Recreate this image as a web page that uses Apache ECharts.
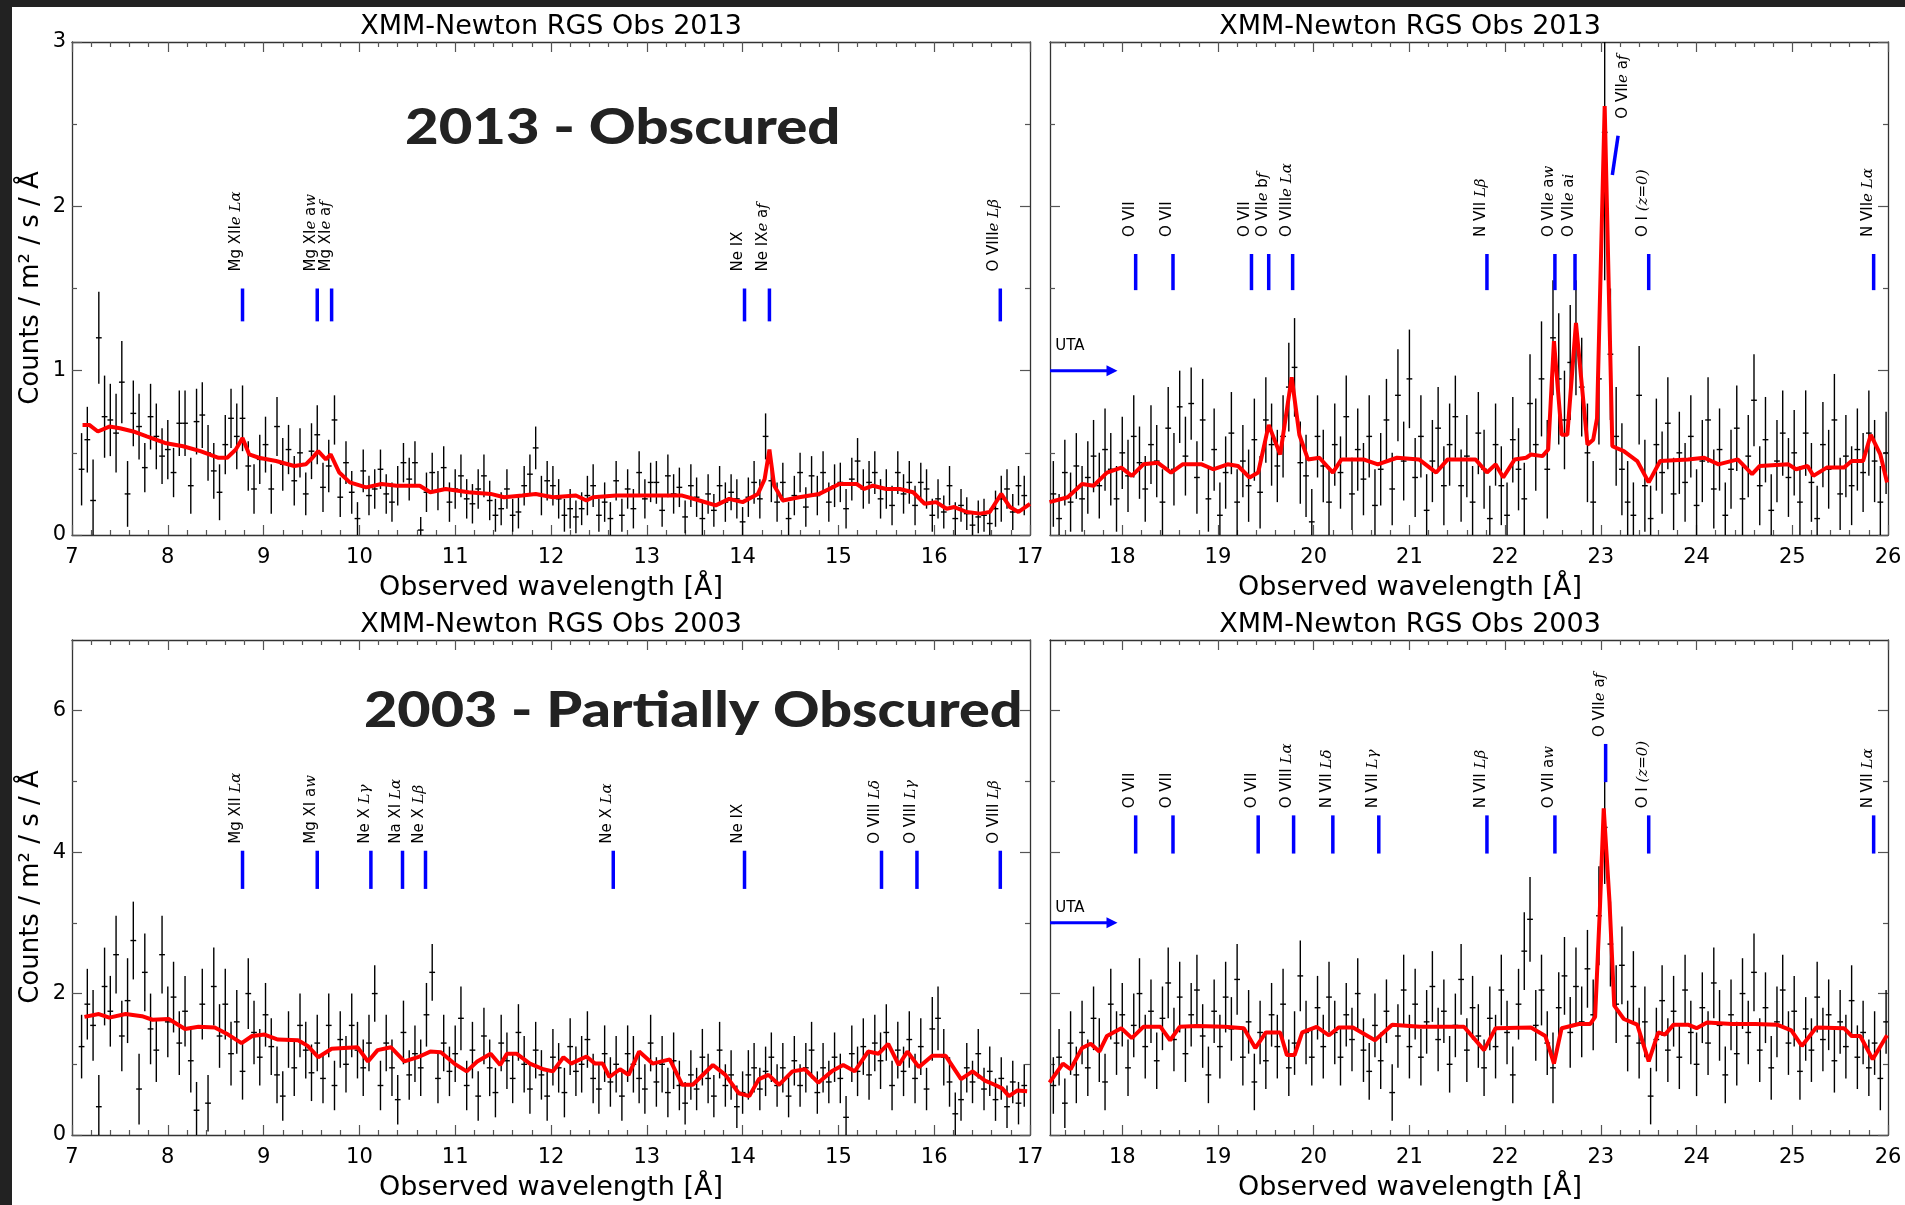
<!DOCTYPE html>
<html lang="en">
<head>
<meta charset="UTF-8">
<title>XMM-Newton RGS spectra 2013 / 2003</title>
<style>
  html, body { margin: 0; padding: 0; background: #fff; }
  #main { width: 1905px; height: 1205px; }
</style>
</head>
<body>
<div id="main"></div>
<script src="https://cdn.jsdelivr.net/npm/echarts@6/dist/echarts.min.js"></script>
<script>
// wavelength bins (Å), same grid for both observations
const waveShort = [
  7.10,7.16,7.22,7.28,7.34,7.40,7.46,7.52,7.58,7.64,
  7.70,7.76,7.82,7.88,7.94,8.00,8.06,8.12,8.18,8.24,
  8.30,8.36,8.42,8.48,8.54,8.60,8.66,8.72,8.78,8.84,
  8.90,8.96,9.02,9.08,9.14,9.20,9.26,9.32,9.38,9.44,
  9.50,9.56,9.62,9.68,9.74,9.80,9.86,9.92,9.98,10.04,
  10.10,10.16,10.22,10.28,10.34,10.40,10.46,10.52,10.58,10.64,
  10.70,10.76,10.82,10.88,10.94,11.00,11.06,11.12,11.18,11.24,
  11.30,11.36,11.42,11.48,11.54,11.60,11.66,11.72,11.78,11.84,
  11.90,11.96,12.02,12.08,12.14,12.20,12.26,12.32,12.38,12.44,
  12.50,12.56,12.62,12.68,12.74,12.80,12.86,12.92,12.98,13.04,
  13.10,13.16,13.22,13.28,13.34,13.40,13.46,13.52,13.58,13.64,
  13.70,13.76,13.82,13.88,13.94,14.00,14.06,14.12,14.18,14.24,
  14.30,14.36,14.42,14.48,14.54,14.60,14.66,14.72,14.78,14.84,
  14.90,14.96,15.02,15.08,15.14,15.20,15.26,15.32,15.38,15.44,
  15.50,15.56,15.62,15.68,15.74,15.80,15.86,15.92,15.98,16.04,
  16.10,16.16,16.22,16.28,16.34,16.40,16.46,16.52,16.58,16.64,
  16.70,16.76,16.82,16.88,16.94
];
const waveLong = [
  17.28,17.34,17.40,17.46,17.52,17.58,17.64,17.70,17.76,17.82,
  17.88,17.94,18.00,18.06,18.12,18.18,18.24,18.30,18.36,18.42,
  18.48,18.54,18.60,18.66,18.72,18.78,18.84,18.90,18.96,19.02,
  19.08,19.14,19.20,19.26,19.32,19.38,19.44,19.50,19.56,19.62,
  19.68,19.74,19.80,19.86,19.92,19.98,20.04,20.10,20.16,20.22,
  20.28,20.34,20.40,20.46,20.52,20.58,20.64,20.70,20.76,20.82,
  20.88,20.94,21.00,21.06,21.12,21.18,21.24,21.30,21.36,21.42,
  21.48,21.54,21.60,21.66,21.72,21.78,21.84,21.90,21.96,22.02,
  22.08,22.14,22.20,22.26,22.32,22.38,22.44,22.50,22.56,22.62,
  22.68,22.74,22.80,22.86,22.92,22.98,23.04,23.10,23.16,23.22,
  23.28,23.34,23.40,23.46,23.52,23.58,23.64,23.70,23.76,23.82,
  23.88,23.94,24.00,24.06,24.12,24.18,24.24,24.30,24.36,24.42,
  24.48,24.54,24.60,24.66,24.72,24.78,24.84,24.90,24.96,25.02,
  25.08,25.14,25.20,25.26,25.32,25.38,25.44,25.50,25.56,25.62,
  25.68,25.74,25.80,25.86,25.92,25.98
];

// 2013 observation: counts / m2 / s / Å and 1-sigma errors
const flux2013Short = [
  0.40,0.58,0.21,1.20,0.72,0.70,0.62,0.93,0.25,0.74,
  0.66,0.41,0.72,0.60,0.48,0.52,0.38,0.68,0.68,0.30,
  0.69,0.73,0.50,0.39,0.26,0.55,0.71,0.60,0.71,0.42,
  0.28,0.46,0.55,0.28,0.66,0.43,0.52,0.33,0.50,0.25,
  0.51,0.61,0.29,0.42,0.70,0.23,0.44,0.26,0.10,0.39,
  0.24,0.28,0.40,0.25,0.20,0.30,0.44,0.34,0.44,0.03,
  0.26,0.38,0.27,0.41,0.20,0.28,0.36,0.22,0.19,0.28,
  0.36,0.21,0.12,0.16,0.28,0.12,0.14,0.30,0.37,0.53,
  0.24,0.33,0.30,0.22,0.12,0.16,0.11,0.16,0.24,0.30,
  0.12,0.20,0.10,0.33,0.12,0.28,0.16,0.38,0.22,0.32,
  0.32,0.15,0.36,0.25,0.29,0.11,0.30,0.23,0.10,0.25,
  0.15,0.30,0.20,0.26,0.22,0.08,0.23,0.32,0.22,0.60,
  0.33,0.20,0.32,0.10,0.24,0.38,0.17,0.36,0.24,0.38,
  0.20,0.30,0.32,0.16,0.34,0.45,0.28,0.32,0.38,0.22,
  0.28,0.18,0.38,0.25,0.32,0.18,0.32,0.28,0.12,0.22,
  0.14,0.30,0.10,0.18,0.13,0.06,0.11,0.12,0.07,0.16,
  0.22,0.28,0.14,0.30,0.24
];
const err2013Short = [
  0.22,0.20,0.25,0.28,0.25,0.22,0.24,0.25,0.20,0.20,
  0.20,0.15,0.20,0.20,0.17,0.18,0.15,0.20,0.20,0.17,
  0.20,0.20,0.17,0.17,0.17,0.18,0.18,0.20,0.20,0.15,
  0.15,0.15,0.17,0.15,0.18,0.16,0.15,0.15,0.15,0.13,
  0.17,0.18,0.15,0.16,0.15,0.12,0.13,0.13,0.10,0.13,
  0.12,0.12,0.12,0.12,0.12,0.12,0.12,0.13,0.13,0.08,
  0.12,0.12,0.12,0.13,0.12,0.12,0.13,0.12,0.12,0.12,
  0.13,0.12,0.10,0.10,0.12,0.10,0.10,0.12,0.12,0.13,
  0.12,0.12,0.12,0.12,0.10,0.12,0.10,0.10,0.12,0.13,
  0.10,0.12,0.10,0.12,0.10,0.12,0.12,0.13,0.12,0.12,
  0.13,0.10,0.13,0.12,0.12,0.10,0.13,0.12,0.10,0.12,
  0.10,0.12,0.12,0.11,0.12,0.09,0.12,0.13,0.12,0.14,
  0.13,0.12,0.12,0.10,0.12,0.12,0.12,0.12,0.12,0.13,
  0.12,0.13,0.12,0.12,0.13,0.14,0.12,0.13,0.13,0.12,
  0.12,0.12,0.13,0.12,0.13,0.12,0.12,0.12,0.10,0.12,
  0.10,0.12,0.10,0.10,0.10,0.08,0.10,0.10,0.09,0.11,
  0.14,0.12,0.11,0.12,0.12
];
const flux2013Long = [
  0.25,0.10,0.38,0.20,0.42,0.22,0.35,0.48,0.30,0.52,
  0.40,0.22,0.50,0.36,0.60,0.44,0.28,0.55,0.45,0.20,
  0.65,0.40,0.78,0.48,0.80,0.35,0.70,0.22,0.52,0.12,
  0.38,0.62,0.20,0.45,0.30,0.58,0.26,0.70,0.55,0.42,
  0.60,0.90,1.02,0.44,0.36,0.08,0.60,0.42,0.20,0.55,
  0.38,0.72,0.25,0.52,0.34,0.60,0.18,0.40,0.70,0.28,
  0.85,0.45,0.95,0.35,0.60,0.15,0.45,0.65,0.30,0.55,
  0.72,0.30,0.48,0.20,0.62,0.40,0.10,0.55,0.30,0.12,
  0.58,0.40,0.22,0.80,0.55,0.95,0.40,1.20,0.95,0.70,
  1.05,1.20,0.90,0.50,0.20,0.95,2.45,1.10,0.60,0.40,
  0.20,0.12,0.85,0.30,0.10,0.55,0.38,0.68,0.25,0.50,
  0.32,0.60,0.18,0.45,0.70,0.28,0.52,0.12,0.40,0.65,
  0.22,0.48,0.82,0.30,0.58,0.15,0.45,0.62,0.35,0.50,
  0.20,0.62,0.32,0.10,0.55,0.40,0.70,0.25,0.48,0.30,
  0.52,0.38,0.62,0.45,0.20,0.50
];
const err2013Long = [
  0.20,0.15,0.20,0.18,0.20,0.20,0.22,0.22,0.20,0.25,
  0.22,0.20,0.22,0.22,0.25,0.22,0.20,0.24,0.22,0.20,
  0.25,0.22,0.22,0.24,0.22,0.22,0.25,0.20,0.25,0.20,
  0.22,0.25,0.20,0.22,0.22,0.25,0.22,0.26,0.25,0.22,
  0.25,0.27,0.30,0.25,0.25,0.20,0.25,0.22,0.22,0.25,
  0.22,0.25,0.22,0.25,0.22,0.25,0.22,0.22,0.25,0.22,
  0.28,0.24,0.30,0.24,0.25,0.22,0.25,0.25,0.24,0.25,
  0.25,0.22,0.25,0.22,0.25,0.24,0.20,0.25,0.24,0.20,
  0.26,0.25,0.22,0.30,0.28,0.35,0.30,0.35,0.40,0.30,
  0.35,0.35,0.30,0.30,0.25,0.40,0.90,0.40,0.30,0.28,
  0.25,0.20,0.30,0.28,0.20,0.28,0.25,0.28,0.22,0.25,
  0.24,0.25,0.22,0.25,0.26,0.24,0.25,0.20,0.24,0.26,
  0.22,0.25,0.28,0.24,0.26,0.22,0.25,0.26,0.24,0.26,
  0.22,0.26,0.24,0.20,0.26,0.24,0.28,0.22,0.25,0.24,
  0.25,0.24,0.26,0.25,0.22,0.25
];

// 2003 observation
const flux2003Short = [
  1.25,1.85,1.55,0.40,2.10,1.75,2.55,1.40,1.90,2.75,
  0.65,2.30,1.50,1.20,2.55,1.60,1.95,1.30,1.75,1.05,
  0.35,1.85,0.45,2.10,1.40,1.85,1.15,1.60,0.90,2.00,
  1.45,1.10,1.70,1.25,0.85,0.55,1.35,0.95,1.55,1.20,
  0.88,1.30,0.80,1.55,0.70,1.35,1.00,1.55,1.20,0.95,
  1.30,2.00,0.70,1.30,0.95,0.50,1.45,0.85,1.15,0.95,
  1.70,2.30,0.80,1.30,0.90,1.15,1.65,0.70,1.20,0.55,
  1.40,0.95,0.60,1.30,1.05,0.80,1.45,1.00,0.65,1.20,
  0.85,0.55,1.10,0.95,0.60,1.25,0.90,1.00,1.35,0.80,
  0.65,1.15,0.75,1.00,0.55,1.15,1.00,0.80,0.65,1.30,
  0.75,1.00,0.60,1.05,0.70,0.45,0.85,0.65,1.10,0.80,
  0.55,1.20,0.70,0.85,0.40,0.60,0.85,0.95,0.65,0.90,
  1.10,0.70,0.95,0.55,1.05,0.70,0.95,1.20,0.60,0.95,
  0.75,1.10,0.80,0.25,1.15,0.90,1.25,0.85,1.30,1.05,
  1.45,0.70,1.20,0.90,1.35,0.80,1.25,0.65,1.50,1.65,
  1.10,0.75,0.30,0.50,0.95,0.75,1.15,0.65,0.90,0.50,
  0.80,0.40,0.75,0.45,0.70
];
const err2003Short = [
  0.45,0.50,0.50,0.45,0.55,0.50,0.55,0.50,0.60,0.55,
  0.50,0.55,0.50,0.45,0.55,0.50,0.50,0.45,0.50,0.45,
  0.40,0.50,0.40,0.55,0.45,0.50,0.45,0.45,0.40,0.50,
  0.45,0.40,0.45,0.40,0.40,0.35,0.40,0.40,0.45,0.40,
  0.40,0.40,0.35,0.45,0.35,0.40,0.40,0.45,0.40,0.40,
  0.40,0.40,0.35,0.40,0.40,0.35,0.45,0.35,0.40,0.40,
  0.45,0.40,0.35,0.40,0.35,0.40,0.45,0.35,0.40,0.35,
  0.40,0.40,0.35,0.40,0.40,0.35,0.40,0.40,0.35,0.40,
  0.35,0.35,0.40,0.35,0.35,0.40,0.35,0.40,0.40,0.35,
  0.35,0.40,0.35,0.40,0.35,0.40,0.40,0.35,0.35,0.40,
  0.35,0.40,0.35,0.40,0.35,0.30,0.35,0.30,0.40,0.35,
  0.30,0.40,0.30,0.35,0.30,0.30,0.35,0.35,0.30,0.35,
  0.35,0.30,0.35,0.30,0.35,0.30,0.35,0.40,0.30,0.35,
  0.30,0.35,0.35,0.30,0.40,0.35,0.40,0.35,0.40,0.40,
  0.40,0.35,0.40,0.35,0.40,0.35,0.40,0.30,0.45,0.45,
  0.40,0.35,0.30,0.30,0.35,0.30,0.35,0.30,0.35,0.30,
  0.30,0.30,0.30,0.30,0.30
];
const flux2003Long = [
  0.70,1.10,0.45,1.30,0.85,1.45,0.95,1.65,1.20,0.75,
  1.85,1.30,1.70,0.95,1.55,2.00,1.25,1.75,1.05,1.65,
  2.15,1.35,1.95,1.15,1.70,2.05,1.40,0.85,1.75,1.25,
  1.95,1.50,2.20,1.10,1.60,0.75,1.45,1.05,1.70,1.25,
  1.85,0.95,1.30,2.25,1.45,1.10,1.80,1.25,1.95,1.45,
  1.10,1.70,1.35,2.00,1.20,0.90,1.55,1.05,1.75,0.60,
  1.40,2.05,1.25,1.85,1.10,1.60,2.10,1.35,1.75,1.00,
  1.55,2.20,1.20,1.80,1.40,0.95,1.65,1.25,2.05,1.45,
  0.85,1.85,2.60,3.05,1.55,2.05,1.30,0.95,1.80,2.25,
  1.45,2.10,1.60,2.35,1.70,3.10,4.35,2.70,1.85,2.40,
  1.40,2.10,1.30,1.60,0.55,1.35,1.90,1.20,1.75,1.10,
  2.05,1.45,1.00,1.80,1.30,2.15,1.55,0.85,1.70,1.15,
  2.00,1.45,2.30,1.20,1.80,0.95,1.60,2.05,1.30,1.75,
  0.90,1.50,1.20,1.95,1.35,1.70,1.05,1.60,1.25,1.90,
  1.10,1.45,0.95,1.30,0.80,1.60
];
const err2003Long = [
  0.40,0.40,0.35,0.45,0.40,0.45,0.40,0.45,0.45,0.40,
  0.50,0.45,0.45,0.40,0.45,0.50,0.45,0.45,0.40,0.45,
  0.50,0.45,0.50,0.40,0.45,0.50,0.45,0.40,0.45,0.45,
  0.50,0.45,0.50,0.40,0.45,0.40,0.45,0.40,0.45,0.45,
  0.50,0.40,0.45,0.50,0.45,0.40,0.45,0.45,0.50,0.45,
  0.40,0.45,0.45,0.50,0.45,0.40,0.45,0.40,0.45,0.40,
  0.45,0.50,0.45,0.50,0.40,0.45,0.50,0.45,0.45,0.40,
  0.45,0.50,0.45,0.45,0.45,0.40,0.45,0.45,0.50,0.45,
  0.40,0.50,0.55,0.60,0.50,0.50,0.45,0.50,0.50,0.55,
  0.50,0.55,0.50,0.55,0.50,0.70,0.80,0.60,0.55,0.55,
  0.50,0.50,0.50,0.50,0.40,0.45,0.50,0.45,0.50,0.45,
  0.50,0.45,0.45,0.50,0.45,0.50,0.50,0.40,0.50,0.45,
  0.50,0.45,0.55,0.45,0.50,0.45,0.50,0.50,0.45,0.50,
  0.40,0.45,0.45,0.50,0.45,0.50,0.45,0.45,0.45,0.50,
  0.45,0.45,0.40,0.45,0.45,0.45
];

// best-fit models (red curves)
const model2013ShortWave = [7.11,7.18,7.27,7.39,7.50,7.64,7.78,7.97,8.16,8.34,8.53,8.62,8.71,8.78,8.85,8.95,9.13,9.32,9.44,9.51,9.57,9.65,9.70,9.79,9.90,10.07,10.23,10.39,10.63,10.74,10.90,11.14,11.37,11.51,11.70,11.84,12.02,12.26,12.37,12.44,12.68,12.96,13.37,13.55,13.72,13.86,14.00,14.16,14.23,14.28,14.33,14.42,14.59,14.80,15.01,15.19,15.27,15.36,15.50,15.64,15.78,15.90,16.02,16.13,16.21,16.34,16.48,16.58,16.70,16.79,16.88,17.00];
const model2013ShortFlux = [0.67,0.67,0.63,0.66,0.65,0.63,0.60,0.56,0.54,0.51,0.47,0.47,0.52,0.59,0.49,0.47,0.45,0.42,0.43,0.47,0.51,0.46,0.49,0.38,0.32,0.29,0.31,0.30,0.30,0.26,0.28,0.26,0.25,0.23,0.24,0.25,0.23,0.24,0.21,0.23,0.24,0.24,0.24,0.21,0.18,0.22,0.20,0.25,0.34,0.52,0.30,0.21,0.23,0.25,0.31,0.31,0.28,0.30,0.28,0.28,0.26,0.19,0.20,0.16,0.17,0.14,0.13,0.14,0.25,0.17,0.14,0.19];
const model2013LongWave = [17.24,17.43,17.58,17.70,17.84,17.99,18.10,18.22,18.37,18.51,18.63,18.83,18.95,19.10,19.21,19.33,19.42,19.53,19.65,19.77,19.85,19.94,20.06,20.20,20.29,20.52,20.67,20.87,21.10,21.28,21.40,21.69,21.81,21.90,21.98,22.10,22.22,22.27,22.39,22.45,22.51,22.59,22.65,22.74,22.86,22.92,22.96,23.04,23.12,23.24,23.38,23.50,23.62,23.91,24.08,24.23,24.43,24.58,24.66,24.96,25.04,25.16,25.22,25.36,25.54,25.62,25.74,25.82,25.92,25.99];
const model2013LongFlux = [0.20,0.23,0.31,0.30,0.38,0.41,0.36,0.43,0.44,0.38,0.43,0.43,0.40,0.43,0.42,0.35,0.38,0.67,0.49,0.96,0.61,0.46,0.47,0.38,0.46,0.46,0.43,0.47,0.46,0.38,0.46,0.46,0.38,0.43,0.35,0.46,0.47,0.49,0.48,0.52,1.18,0.61,0.61,1.29,0.55,0.58,0.71,2.61,0.54,0.51,0.45,0.32,0.45,0.46,0.47,0.43,0.46,0.37,0.42,0.43,0.40,0.42,0.36,0.41,0.41,0.45,0.45,0.61,0.49,0.32];
const model2003ShortWave = [7.13,7.28,7.39,7.56,7.73,7.84,8.01,8.18,8.32,8.49,8.63,8.77,8.88,9.01,9.15,9.36,9.46,9.57,9.71,9.84,9.98,10.09,10.19,10.33,10.47,10.61,10.74,10.85,10.99,11.12,11.23,11.37,11.47,11.54,11.64,11.78,11.92,12.02,12.13,12.21,12.37,12.46,12.54,12.61,12.72,12.81,12.92,13.06,13.24,13.37,13.48,13.69,13.82,13.96,14.07,14.17,14.27,14.38,14.52,14.65,14.79,14.93,15.05,15.17,15.31,15.42,15.52,15.63,15.72,15.84,15.98,16.12,16.28,16.40,16.53,16.63,16.71,16.78,16.87,16.97];
const model2003ShortFlux = [1.67,1.71,1.66,1.71,1.68,1.63,1.64,1.50,1.53,1.52,1.42,1.30,1.40,1.42,1.35,1.34,1.26,1.10,1.22,1.23,1.24,1.04,1.20,1.24,1.04,1.10,1.18,1.17,1.01,0.90,1.04,1.15,0.99,1.15,1.15,1.01,0.93,0.90,1.10,1.01,1.11,1.01,1.01,0.82,0.93,0.85,1.18,1.01,1.07,0.71,0.71,0.99,0.85,0.59,0.55,0.79,0.85,0.71,0.90,0.93,0.74,0.90,0.99,0.90,1.18,1.15,1.29,0.99,1.18,0.96,1.12,1.12,0.79,0.90,0.77,0.71,0.66,0.55,0.63,0.62];
const model2003LongWave = [17.24,17.38,17.46,17.58,17.67,17.76,17.84,17.99,18.10,18.22,18.40,18.50,18.60,18.78,19.07,19.27,19.39,19.50,19.65,19.72,19.80,19.88,20.03,20.16,20.26,20.41,20.64,20.82,21.11,21.57,21.78,21.90,22.27,22.42,22.51,22.59,22.77,22.89,22.94,22.99,23.03,23.09,23.14,23.24,23.38,23.50,23.60,23.67,23.76,23.91,24.00,24.11,24.37,24.61,24.84,24.99,25.10,25.25,25.54,25.62,25.71,25.84,25.99];
const model2003LongFlux = [0.74,1.01,0.93,1.23,1.29,1.18,1.40,1.51,1.37,1.53,1.53,1.34,1.53,1.54,1.53,1.51,1.23,1.45,1.45,1.13,1.13,1.45,1.53,1.41,1.52,1.52,1.34,1.56,1.53,1.53,1.20,1.51,1.52,1.40,1.01,1.51,1.57,1.57,1.67,3.20,4.62,3.31,1.83,1.64,1.56,1.04,1.45,1.42,1.56,1.56,1.51,1.59,1.57,1.57,1.56,1.48,1.26,1.52,1.51,1.40,1.40,1.07,1.41];

// line identifications: wavelength, base of the blue tick, label
const ids2013ShortWave = [8.78, 9.56, 9.71, 14.02, 14.28, 16.69];
const ids2013ShortBase = [1.30, 1.30, 1.30, 1.30, 1.30, 1.30];
const ids2013ShortName = [
  '{n|Mg XII}{i|e} {i|Lα}', '{n|Mg XI}{i|e} {n|a}{i|w}', '{n|Mg XI}{i|e} {n|a}{i|f}',
  '{n|Ne IX}', '{n|Ne IX}{i|e} {n|a}{i|f}', '{n|O VIII}{i|e} {i|Lβ}'
];
const ids2013LongWave = [18.14, 18.53, 19.35, 19.53, 19.78, 21.81, 22.52, 22.73, 23.50, 25.85];
const ids2013LongBase = [1.49, 1.49, 1.49, 1.49, 1.49, 1.49, 1.49, 1.49, 1.49, 1.49];
const ids2013LongName = [
  '{n|O VII}', '{n|O VII}', '{n|O VII}', '{n|O VII}{i|e} {n|b}{i|f}', '{n|O VIII}{i|e} {i|Lα}',
  '{n|N VII} {i|Lβ}', '{n|O VII}{i|e} {n|a}{i|w}', '{n|O VII}{i|e} {n|a}{i|i}',
  '{n|O I} {i|(z=0)}', '{n|N VII}{i|e} {i|Lα}'
];
// slanted tick of the strong O VII line in 2013: [wave0, flux0, wave1, flux1]
const slant2013 = [23.12, 2.19, 23.18, 2.43];
const slant2013Name = '{n|O VII}{i|e} {n|a}{i|f}';
const ids2003ShortWave = [8.78, 9.56, 10.12, 10.45, 10.69, 12.65, 14.02, 15.45, 15.82, 16.69];
const ids2003ShortBase = [3.48, 3.48, 3.48, 3.48, 3.48, 3.48, 3.48, 3.48, 3.48, 3.48];
const ids2003ShortName = [
  '{n|Mg XII} {i|Lα}', '{n|Mg XI a}{i|w}', '{n|Ne X} {i|Lγ}', '{n|Na XI} {i|Lα}', '{n|Ne X} {i|Lβ}',
  '{n|Ne X} {i|Lα}', '{n|Ne IX}', '{n|O VIII} {i|Lδ}', '{n|O VIII} {i|Lγ}', '{n|O VIII} {i|Lβ}'
];
const ids2003LongWave = [18.14, 18.53, 19.42, 19.79, 20.20, 20.68, 21.81, 22.52, 23.05, 23.50, 25.85];
const ids2003LongBase = [3.98, 3.98, 3.98, 3.98, 3.98, 3.98, 3.98, 3.98, 4.99, 3.98, 3.98];
const ids2003LongName = [
  '{n|O VII}', '{n|O VII}', '{n|O VII}', '{n|O VIII} {i|Lα}', '{n|N VII} {i|Lδ}', '{n|N VII} {i|Lγ}',
  '{n|N VII} {i|Lβ}', '{n|O VII a}{i|w}', '{n|O VII}{i|e} {n|a}{i|f}', '{n|O I} {i|(z=0)}', '{n|N VII} {i|Lα}'
];
// UTA arrows: [from, to, flux, text wave, text flux]
const uta2013 = [17.245, 17.95, 1.0, 17.30, 1.15];
const uta2003 = [17.245, 17.95, 3.0, 17.30, 3.21];

// axis ticks
const xTicksShort = [7, 8, 9, 10, 11, 12, 13, 14, 15, 16, 17];
const xTicksLong = [18, 19, 20, 21, 22, 23, 24, 25, 26];
const yTicks2013 = [0, 1, 2, 3];
const yTicks2003 = [0, 2, 4, 6];

const FONT = 'DejaVu Sans';
const FRAME = {color: '#333', width: 1.3};
const TICK = {color: '#555', width: 1.2};
const HALF_BIN = 0.03;
const BAR = {stroke: '#000', lineWidth: 1.4};
const RICH = {
  n: {fontSize: 15, fontFamily: FONT, fill: '#000'},
  i: {fontSize: 15, fontFamily: 'DejaVu Serif', fontStyle: 'italic', fill: '#000'}
};

function minorTicks(lo, hi, step, majors) {
  const out = [];
  const start = Math.ceil(lo / step - 1e-9) * step;
  for (let v = start; v <= hi + 1e-9; v += step) {
    const r = Math.round(v * 1000) / 1000;
    if (r <= lo + 1e-6 || r >= hi - 1e-6) continue;
    if (majors.some(m => Math.abs(m - r) < 1e-6)) continue;
    out.push(r);
  }
  return out;
}

const panels = [
  {grid: {left: 72, top: 42, width: 958, height: 493}, xMin: 7, xMax: 17, yMax: 3,
   xMajor: xTicksShort, xStep: 0.2, yMajor: yTicks2013, yStep: 0.5,
   wave: waveShort, flux: flux2013Short, err: err2013Short,
   mWave: model2013ShortWave, mFlux: model2013ShortFlux,
   idWave: ids2013ShortWave, idBase: ids2013ShortBase, idName: ids2013ShortName, idLen: 0.2, idGap: 17},
  {grid: {left: 1050, top: 42, width: 838, height: 493}, xMin: 17.245, xMax: 26, yMax: 3,
   xMajor: xTicksLong, xStep: 0.2, yMajor: yTicks2013, yStep: 0.5,
   wave: waveLong, flux: flux2013Long, err: err2013Long,
   mWave: model2013LongWave, mFlux: model2013LongFlux,
   idWave: ids2013LongWave, idBase: ids2013LongBase, idName: ids2013LongName, idLen: 0.22, idGap: 17,
   uta: uta2013, slant: slant2013, slantName: slant2013Name},
  {grid: {left: 72, top: 640, width: 958, height: 495}, xMin: 7, xMax: 17, yMax: 7,
   xMajor: xTicksShort, xStep: 0.2, yMajor: yTicks2003, yStep: 1,
   wave: waveShort, flux: flux2003Short, err: err2003Short,
   mWave: model2003ShortWave, mFlux: model2003ShortFlux,
   idWave: ids2003ShortWave, idBase: ids2003ShortBase, idName: ids2003ShortName, idLen: 0.54, idGap: 7},
  {grid: {left: 1050, top: 640, width: 838, height: 495}, xMin: 17.245, xMax: 26, yMax: 7,
   xMajor: xTicksLong, xStep: 0.2, yMajor: yTicks2003, yStep: 1,
   wave: waveLong, flux: flux2003Long, err: err2003Long,
   mWave: model2003LongWave, mFlux: model2003LongFlux,
   idWave: ids2003LongWave, idBase: ids2003LongBase, idName: ids2003LongName, idLen: 0.54, idGap: 7,
   uta: uta2003}
];

const grids = [], xAxes = [], yAxes = [], series = [];

panels.forEach((p, gi) => {
  grids.push(Object.assign({containLabel: false}, p.grid));
  const xMinor = minorTicks(p.xMin, p.xMax, p.xStep, p.xMajor);
  const yMinor = minorTicks(0, p.yMax, p.yStep, p.yMajor);
  const xb = {gridIndex: gi, type: 'value', min: p.xMin, max: p.xMax, splitLine: {show: false}};
  const yb = {gridIndex: gi, type: 'value', min: 0, max: p.yMax, splitLine: {show: false}};
  const tickAx = (base, pos, values, len, withLine, withLabel) => Object.assign({}, base, {
    position: pos,
    axisLine: {show: withLine, onZero: false, lineStyle: FRAME},
    axisTick: {show: true, inside: true, length: len, customValues: values, lineStyle: TICK},
    axisLabel: withLabel ? withLabel : {show: false}
  });
  const xLab = {show: true, customValues: p.xMajor, margin: 12, fontSize: 21, color: '#000', fontFamily: FONT};
  const yLab = {show: true, customValues: p.yMajor, margin: 6, fontSize: 21, color: '#000', fontFamily: FONT};
  xAxes.push(
    tickAx(xb, 'bottom', p.xMajor, 10, true, xLab),
    tickAx(xb, 'bottom', xMinor, 5, false),
    tickAx(xb, 'top', p.xMajor, 10, true),
    tickAx(xb, 'top', xMinor, 5, false)
  );
  yAxes.push(
    tickAx(yb, 'left', p.yMajor, 10, true, gi % 2 === 0 ? yLab : null),
    tickAx(yb, 'left', yMinor, 5, false),
    tickAx(yb, 'right', p.yMajor, 10, true),
    tickAx(yb, 'right', yMinor, 5, false)
  );
  const axIdx = {xAxisIndex: gi * 4, yAxisIndex: gi * 4};

  // data points with error bars
  series.push(Object.assign({
    type: 'custom', z: 2, silent: true,
    data: p.wave.map((w, k) => [w, p.flux[k], p.err[k]]),
    encode: {x: 0, y: 1},
    renderItem: (params, api) => {
      const x = api.value(0), y = api.value(1), e = api.value(2);
      const hi = api.coord([x, Math.min(y + e, p.yMax)]);
      const lo = api.coord([x, Math.max(y - e, 0)]);
      const l = api.coord([Math.max(x - HALF_BIN, p.xMin), y]);
      const r = api.coord([Math.min(x + HALF_BIN, p.xMax), y]);
      const kids = [{type: 'line', shape: {x1: hi[0], y1: hi[1], x2: lo[0], y2: lo[1]},
                     style: Object.assign({}, BAR)}];
      if (y <= p.yMax) {
        kids.push({type: 'line', shape: {x1: l[0], y1: l[1], x2: r[0], y2: r[1]},
                   style: Object.assign({}, BAR)});
      }
      return {type: 'group', children: kids};
    }
  }, axIdx));

  // model
  series.push(Object.assign({
    type: 'line', z: 3, silent: true, showSymbol: false, symbol: 'none', clip: true,
    data: p.mWave.map((w, k) => [w, p.mFlux[k]]),
    lineStyle: {color: '#ff0000', width: 4}
  }, axIdx));

  // line identifications
  series.push(Object.assign({
    type: 'custom', z: 4, silent: true,
    data: p.idWave.map((w, k) => [w, p.idBase[k]]),
    encode: {x: 0, y: 1},
    renderItem: (params, api) => {
      const x = api.value(0), y0 = api.value(1);
      const a = api.coord([x, y0]);
      const b = api.coord([x, y0 + p.idLen]);
      return {type: 'group', children: [
        {type: 'line', shape: {x1: a[0], y1: a[1], x2: b[0], y2: b[1]},
         style: {stroke: '#0000ff', lineWidth: 3.5}},
        {type: 'text', x: b[0] - 6, y: b[1] - p.idGap, rotation: Math.PI / 2,
         style: {text: p.idName[params.dataIndex], rich: RICH, fontSize: 15, fontFamily: FONT,
                 fill: '#000', align: 'left', verticalAlign: 'middle'}}
      ]};
    }
  }, axIdx));

  if (p.slant) {
    series.push(Object.assign({
      type: 'custom', z: 4, silent: true,
      data: [p.slant],
      encode: {x: 0, y: 1},
      renderItem: (params, api) => {
        const a = api.coord([api.value(0), api.value(1)]);
        const b = api.coord([api.value(2), api.value(3)]);
        return {type: 'group', children: [
          {type: 'line', shape: {x1: a[0], y1: a[1], x2: b[0], y2: b[1]},
           style: {stroke: '#0000ff', lineWidth: 3.5}},
          {type: 'text', x: b[0] + 5, y: b[1] - 17, rotation: Math.PI / 2,
           style: {text: p.slantName, rich: RICH, fontSize: 15, fontFamily: FONT,
                   fill: '#000', align: 'left', verticalAlign: 'middle'}}
        ]};
      }
    }, axIdx));
  }

  if (p.uta) {
    series.push(Object.assign({
      type: 'custom', z: 4, silent: true,
      data: [p.uta],
      encode: {x: 0, y: 2},
      renderItem: (params, api) => {
        const a = api.coord([api.value(0), api.value(2)]);
        const b = api.coord([api.value(1), api.value(2)]);
        const t = api.coord([api.value(3), api.value(4)]);
        return {type: 'group', children: [
          {type: 'line', shape: {x1: a[0], y1: a[1], x2: b[0] - 8, y2: b[1]},
           style: {stroke: '#0000ff', lineWidth: 3}},
          {type: 'polygon', shape: {points: [[b[0], b[1]], [b[0] - 11, b[1] - 5.5], [b[0] - 11, b[1] + 5.5]]},
           style: {fill: '#0000ff'}},
          {type: 'text', x: t[0], y: t[1],
           style: {text: 'UTA', fontSize: 15, fontFamily: FONT, fill: '#000', align: 'left', verticalAlign: 'middle'}}
        ]};
      }
    }, axIdx));
  }
});

function label(text, x, y, font, extra) {
  return Object.assign({
    type: 'text', x: x, y: y, silent: true,
    style: {text: text, font: font, fill: '#000', align: 'center', verticalAlign: 'middle',
            textAlign: 'center', textVerticalAlign: 'middle'}
  }, extra || {});
}

// big headline: left edge, vertical centre, horizontal stretch
function headline(text, x, y, sx) {
  return {type: 'text', x: x, y: y, scaleX: sx, silent: true, z: 10,
          style: {text: text, font: '900 50px Lato', fill: '#222',
                  align: 'left', verticalAlign: 'middle', textAlign: 'left', textVerticalAlign: 'middle'}};
}

const graphics = [
  {type: 'rect', shape: {x: 0, y: 0, width: 1905, height: 7}, style: {fill: '#222'}, silent: true},
  {type: 'rect', shape: {x: 0, y: 0, width: 12, height: 1205}, style: {fill: '#222'}, silent: true},
  label('XMM-Newton RGS Obs 2013', 551, 27, '27px "DejaVu Sans"'),
  label('XMM-Newton RGS Obs 2013', 1410, 27, '27px "DejaVu Sans"'),
  label('XMM-Newton RGS Obs 2003', 551, 625, '27px "DejaVu Sans"'),
  label('XMM-Newton RGS Obs 2003', 1410, 625, '27px "DejaVu Sans"'),
  label('Observed wavelength [Å]', 551, 588, '27px "DejaVu Sans"'),
  label('Observed wavelength [Å]', 1410, 588, '27px "DejaVu Sans"'),
  label('Observed wavelength [Å]', 551, 1188, '27px "DejaVu Sans"'),
  label('Observed wavelength [Å]', 1410, 1188, '27px "DejaVu Sans"'),
  label('Counts / m² / s / Å', 31, 288, '26px "DejaVu Sans"', {rotation: Math.PI / 2}),
  label('Counts / m² / s / Å', 31, 887, '26px "DejaVu Sans"', {rotation: Math.PI / 2}),
  headline('2013 - Obscured', 405, 128, 1.16),
  headline('2003 - Partially Obscured', 364, 711, 1.15)
];

const chart = echarts.init(document.getElementById('main'), null, {renderer: 'canvas'});
chart.setOption({
  backgroundColor: '#fff',
  animation: false,
  grid: grids,
  xAxis: xAxes,
  yAxis: yAxes,
  series: series,
  graphic: graphics
});
</script>
</body>
</html>
